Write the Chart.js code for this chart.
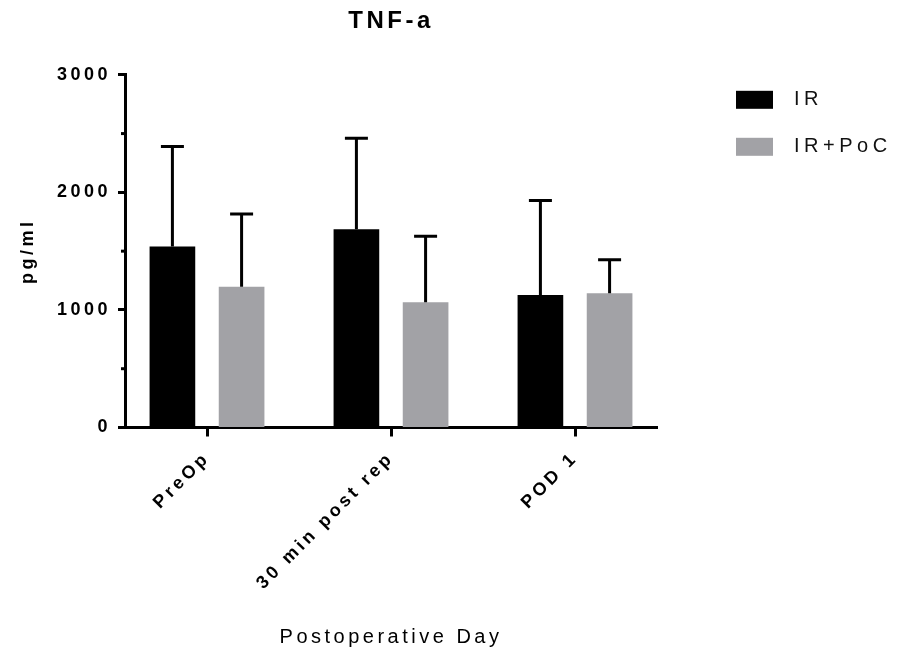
<!DOCTYPE html>
<html>
<head>
<meta charset="utf-8">
<script src="https://cdn.jsdelivr.net/npm/chart.js@4.4.1/dist/chart.umd.min.js"></script>
<style>
  html, body { margin: 0; padding: 0; background: #fff; }
  #wrap { width: 901px; height: 656px; position: relative; }
</style>
</head>
<body>
<div id="wrap"><canvas id="tnfChart"></canvas></div>
<script>
const FONT = "'Liberation Sans', Arial, Helvetica, sans-serif";

// values: group means and the upper SD whisker
const days = ['PreOp', '30 min post rep', 'POD 1'];
const irMean = [1539, 1687, 1128];
const irSD = [851, 774, 802];
const pocMean = [1198, 1066, 1142];
const pocSD = [619, 561, 284];
const yTicks = [0, 1000, 2000, 3000];

// Prism-style spaced lettering for the canvas texts
const spacing = {
    id: 'spacing',
    beforeUpdate(chart) { chart.ctx.letterSpacing = '3.5px'; },
    beforeDraw(chart) { chart.ctx.letterSpacing = '3.5px'; }
};

// Prism leaves a wider gap at the axis ends than Chart.js's half-category offset
const axisGap = {
    id: 'axisGap',
    afterLayout(chart) {
        const x = chart.scales.x;
        const gap = 82;
        const len = x.right - x.left;
        const n = x.getLabels().length;
        x._valueRange = (n - 1) * len / (len - 2 * gap);
        x._startValue = -gap / len * x._valueRange;
    }
};

// upward SD whiskers with a cap
const errorBars = {
    id: 'errorBars',
    afterDatasetsDraw(chart) {
        const { ctx, scales: { y } } = chart;
        ctx.save();
        ctx.strokeStyle = '#000';
        ctx.lineWidth = 3;
        chart.data.datasets.forEach((ds, i) => {
            chart.getDatasetMeta(i).data.forEach((bar, j) => {
                const top = y.getPixelForValue(ds.data[j] + ds.sd[j]);
                ctx.beginPath();
                ctx.moveTo(bar.x, bar.y);
                ctx.lineTo(bar.x, top);
                ctx.moveTo(bar.x - 11.5, top);
                ctx.lineTo(bar.x + 11.5, top);
                ctx.stroke();
            });
        });
        ctx.restore();
    }
};

// short minor ticks on y + legend to the right of the plot
const extras = {
    id: 'extras',
    afterDraw(chart) {
        const { ctx, chartArea, scales: { y } } = chart;
        ctx.save();
        ctx.strokeStyle = '#000';
        ctx.lineWidth = 3;
        y.ticks.forEach(t => {
            if (yTicks.includes(t.value)) return;
            const py = y.getPixelForValue(t.value);
            ctx.beginPath();
            ctx.moveTo(chartArea.left - 4, py);
            ctx.lineTo(chartArea.left, py);
            ctx.stroke();
        });

        ctx.letterSpacing = '4.5px';
        ctx.font = `20px ${FONT}`;
        ctx.textBaseline = 'middle';
        chart.data.datasets.forEach((ds, i) => {
            const bx = chartArea.right + 79;
            const by = chartArea.top + 16 + i * 47;
            ctx.fillStyle = ds.backgroundColor;
            ctx.fillRect(bx, by, 37, 18);
            ctx.fillStyle = '#111';
            ctx.fillText(ds.label, bx + 58, by + 9);
        });
        ctx.restore();
    }
};

new Chart(document.getElementById('tnfChart'), {
    type: 'bar',
    data: {
        labels: days,
        datasets: [
            { label: 'IR', data: irMean, sd: irSD, backgroundColor: '#000000' },
            { label: 'IR+PoC', data: pocMean, sd: pocSD, backgroundColor: '#a2a2a6' }
        ]
    },
    options: {
        responsive: true,
        maintainAspectRatio: false,
        animation: false,
        datasets: { bar: { categoryPercentage: 0.752, barPercentage: 0.66 } },
        layout: { padding: { left: 0, right: 244, top: 0, bottom: 0 } },
        plugins: {
            legend: { display: false },
            tooltip: { enabled: false },
            title: {
                display: true, text: 'TNF-a', fullSize: false, color: '#000',
                font: { family: FONT, size: 24, weight: 'bold' },
                padding: { top: 7, bottom: 39 }
            }
        },
        scales: {
            x: {
                grid: { drawOnChartArea: false, offset: false, tickLength: 9, tickWidth: 3, tickColor: '#000' },
                border: { color: '#000', width: 3 },
                ticks: {
                    color: '#000', autoSkip: false, minRotation: 45, maxRotation: 45, padding: 11,
                    font: { family: FONT, size: 18, weight: 'bold' }
                },
                title: {
                    display: true, text: 'Postoperative Day', color: '#000',
                    font: { family: FONT, size: 20 }, padding: { top: 0, bottom: 7 }
                },
                afterFit(s) { s.height = 228.5; }
            },
            y: {
                min: 0, max: 3000,
                grid: {
                    drawOnChartArea: false, tickLength: 7, tickWidth: 3,
                    tickColor: c => yTicks.includes(c.tick.value) ? '#000' : 'transparent'
                },
                border: { color: '#000', width: 3 },
                ticks: {
                    stepSize: 500, autoSkip: false, color: '#000', padding: 7,
                    font: { family: FONT, size: 18, weight: 'bold' },
                    callback: v => yTicks.includes(v) ? v : ''
                },
                title: {
                    display: true, text: 'pg/ml', color: '#000',
                    font: { family: FONT, size: 18, weight: 'bold' }, padding: { top: 17 }
                },
                afterFit(s) { s.width = 125; }
            }
        }
    },
    plugins: [spacing, axisGap, errorBars, extras]
});
</script>
</body>
</html>
